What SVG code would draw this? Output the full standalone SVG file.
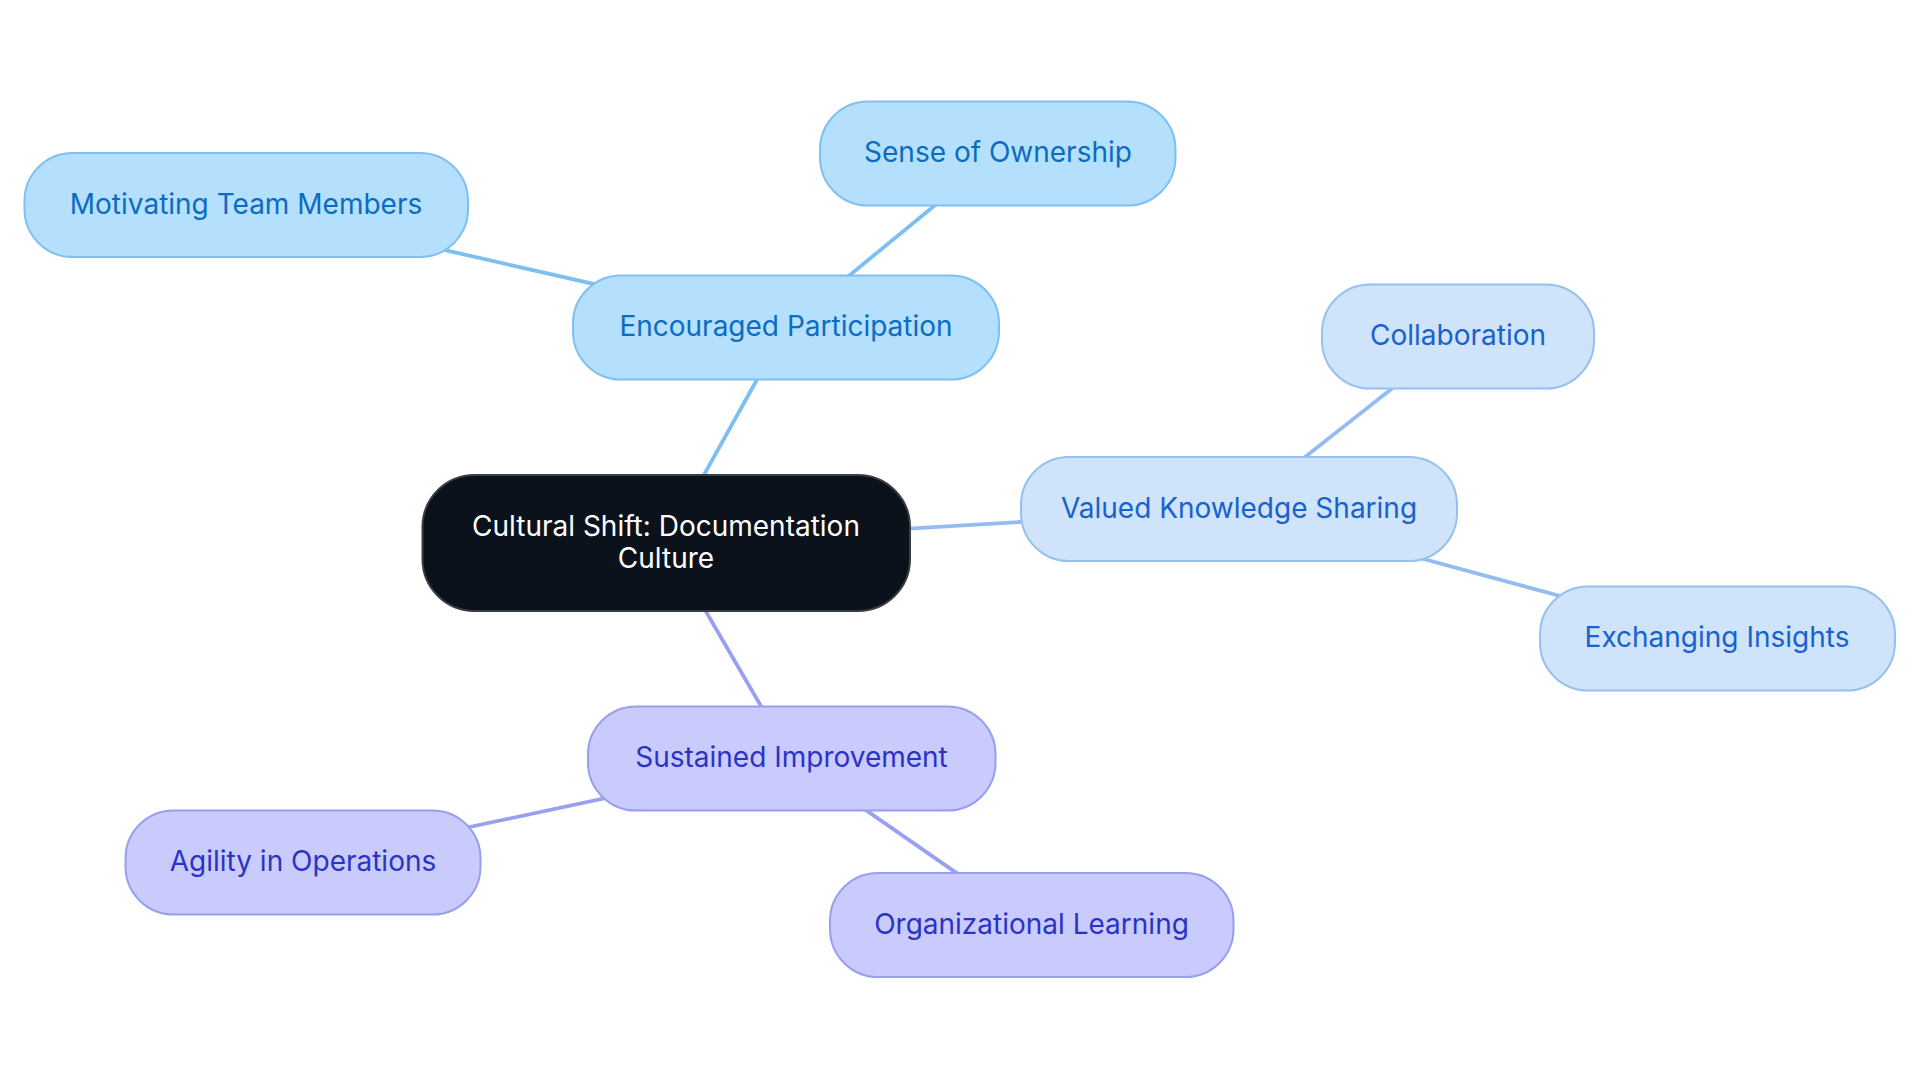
<svg xmlns="http://www.w3.org/2000/svg" width="1920" height="1083" viewBox="0 0 1920 1083">
<style>
.t{font-family:Inter,"Noto Sans","Liberation Sans",sans-serif;font-size:28px;text-anchor:middle}
.e{stroke-width:3.8;fill:none;stroke-linecap:round}
.g1 rect{fill:#b4dffd;stroke:#7fc0f0;stroke-width:2}
.g1 text{fill:#0b6cc0}
.g2 rect{fill:#cfe3fb;stroke:#95c0f0;stroke-width:2}
.g2 text{fill:#1762cc}
.g3 rect{fill:#c8cbfc;stroke:#989ef0;stroke-width:2}
.g3 text{fill:#2b33c6}
</style>
<rect width="1920" height="1083" fill="#ffffff"/>
<g id="connectors">
<line class="e" stroke="#7dbff0" x1="666" y1="543" x2="786" y2="327.5"/>
<line class="e" stroke="#7dbff0" x1="786" y1="327.5" x2="998" y2="153.5"/>
<line class="e" stroke="#7dbff0" x1="786" y1="327.5" x2="246" y2="205"/>
<line class="e" stroke="#92bdee" x1="666" y1="543" x2="1239" y2="509"/>
<line class="e" stroke="#92bdee" x1="1239" y1="509" x2="1458" y2="336.5"/>
<line class="e" stroke="#92bdee" x1="1239" y1="509" x2="1717" y2="638.5"/>
<line class="e" stroke="#9aa0f0" x1="666" y1="543" x2="791.5" y2="758.5"/>
<line class="e" stroke="#9aa0f0" x1="791.5" y1="758.5" x2="303" y2="862.5"/>
<line class="e" stroke="#9aa0f0" x1="791.5" y1="758.5" x2="1031.5" y2="925"/>
</g>
<g id="node-central">
<rect x="422.5" y="475" width="487.5" height="136" rx="52" fill="#0c121b" stroke="#3a3d42" stroke-width="2"/>
<text class="t" x="666" y="535.5" fill="#ffffff">Cultural Shift: Documentation</text>
<text class="t" x="666" y="567.5" fill="#ffffff">Culture</text>
</g>
<g id="node-encouraged" class="g1">
<rect x="573" y="275.5" width="426" height="104" rx="48"/>
<text class="t" x="786" y="336">Encouraged Participation</text>
</g>
<g id="node-ownership" class="g1">
<rect x="820" y="101.5" width="355.5" height="104" rx="48"/>
<text class="t" x="998" y="162">Sense of Ownership</text>
</g>
<g id="node-motivating" class="g1">
<rect x="24.5" y="153" width="443.5" height="104" rx="48"/>
<text class="t" x="246" y="213.5">Motivating Team Members</text>
</g>
<g id="node-valued" class="g2">
<rect x="1021" y="457" width="436" height="104" rx="48"/>
<text class="t" x="1239" y="517.5">Valued Knowledge Sharing</text>
</g>
<g id="node-collaboration" class="g2">
<rect x="1322" y="284.5" width="272" height="104" rx="48"/>
<text class="t" x="1458" y="345">Collaboration</text>
</g>
<g id="node-exchanging" class="g2">
<rect x="1540" y="586.5" width="355" height="104" rx="48"/>
<text class="t" x="1717" y="647">Exchanging Insights</text>
</g>
<g id="node-sustained" class="g3">
<rect x="588" y="706.5" width="407.5" height="104" rx="48"/>
<text class="t" x="791.5" y="767">Sustained Improvement</text>
</g>
<g id="node-agility" class="g3">
<rect x="125.5" y="810.5" width="355" height="104" rx="48"/>
<text class="t" x="303" y="871">Agility in Operations</text>
</g>
<g id="node-organizational" class="g3">
<rect x="830" y="873" width="403.5" height="104" rx="48"/>
<text class="t" x="1031.5" y="933.5">Organizational Learning</text>
</g>
</svg>
